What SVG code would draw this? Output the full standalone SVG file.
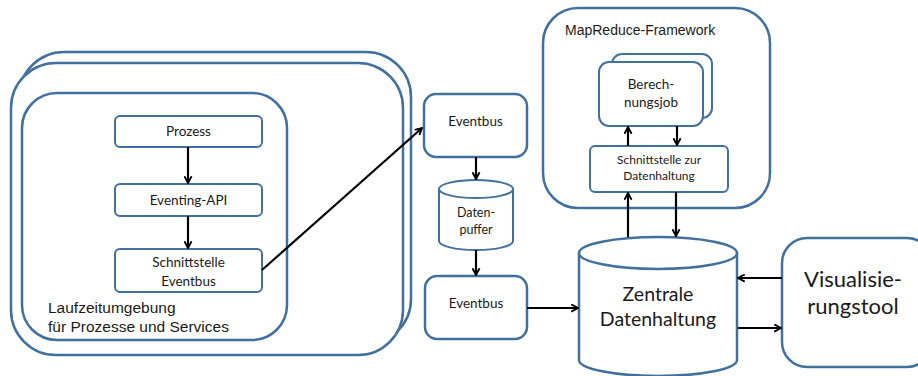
<svg xmlns="http://www.w3.org/2000/svg" width="918" height="376" viewBox="0 0 918 376">
<style>
.b{fill:#fff;stroke:#41709f;stroke-width:2.5}
.s{fill:#fff;stroke:#41709f;stroke-width:2}
.c{fill:none;stroke:#000;stroke-width:2.2}
.t{font-family:Lato,"Open Sans",sans-serif;fill:#1a1a1a;text-anchor:middle}
.a{font-family:"Liberation Sans",Arial,sans-serif;fill:#1a1a1a}
</style>
<defs>
<marker id="ar" viewBox="0 0 10 10" refX="9" refY="5" markerWidth="9" markerHeight="9" orient="auto" markerUnits="userSpaceOnUse">
<path d="M1.5,1 L9,5 L1.5,9" fill="none" stroke="#000" stroke-width="2"/>
</marker>
</defs>
<rect width="918" height="376" fill="#fff"/>
<g id="runtime-stack">
<rect class="b" x="19" y="52" width="392" height="292" rx="45"/>
<rect class="b" x="11" y="63" width="392" height="292" rx="45"/>
</g>
<g id="laufzeitumgebung">
<rect class="b" x="22" y="93" width="265" height="247" rx="35"/>
<text class="a" font-size="15.5" x="48" y="313">Laufzeitumgebung</text>
<text class="a" font-size="15.5" x="48" y="332">für Prozesse und Services</text>
</g>
<g id="prozess">
<rect class="s" x="115" y="116" width="147" height="31" rx="5"/>
<text class="t" font-size="13.5" x="188.5" y="136">Prozess</text>
</g>
<g id="eventing-api">
<rect class="s" x="115" y="184" width="147" height="32" rx="5"/>
<text class="t" font-size="13.5" x="188.5" y="205">Eventing-API</text>
</g>
<g id="schnittstelle-eventbus">
<rect class="s" x="115" y="249" width="147" height="43" rx="5"/>
<text class="t" font-size="13.5" x="188.5" y="267">Schnittstelle</text>
<text class="t" font-size="13.5" x="188.5" y="286">Eventbus</text>
</g>
<g id="eventbus1">
<rect class="b" x="424" y="94" width="103" height="63" rx="12"/>
<text class="t" font-size="13.5" x="475.5" y="126">Eventbus</text>
</g>
<g id="datenpuffer">
<path class="s" d="M439,189 L439,241 A37,9 0 0 0 513,241 L513,189"/>
<ellipse class="s" cx="476" cy="189" rx="37" ry="9"/>
<text class="t" font-size="12.5" x="476" y="217">Daten-</text>
<text class="t" font-size="12.5" x="476" y="234">puffer</text>
</g>
<g id="eventbus2">
<rect class="b" x="425" y="276" width="102" height="63" rx="12"/>
<text class="t" font-size="13.5" x="476" y="308">Eventbus</text>
</g>
<g id="mapreduce">
<rect class="b" x="543" y="8" width="227" height="200" rx="35"/>
<text class="a" font-size="14" x="565" y="35">MapReduce-Framework</text>
</g>
<g id="berechnungsjob">
<rect class="s" x="612" y="54" width="100" height="64" rx="10"/>
<rect class="s" x="599" y="62" width="104" height="64" rx="10"/>
<text class="t" font-size="13.5" x="651" y="89">Berech-</text>
<text class="t" font-size="13.5" x="651" y="107">nungsjob</text>
</g>
<g id="schnittstelle-datenhaltung">
<rect class="s" x="590" y="146" width="138" height="46" rx="5"/>
<text class="t" font-size="12" x="659" y="164">Schnittstelle zur</text>
<text class="t" font-size="12" x="659" y="180">Datenhaltung</text>
</g>
<g id="zentrale-datenhaltung">
<path class="b" d="M579,253 L579,360 A79,16 0 0 0 737,360 L737,253"/>
<ellipse class="b" cx="658" cy="253" rx="79" ry="16"/>
<text class="t" font-size="19.5" x="658" y="301">Zentrale</text>
<text class="t" font-size="19.5" x="658" y="326">Datenhaltung</text>
</g>
<g id="visualisierungstool">
<rect class="b" x="782" y="238" width="150" height="129" rx="25"/>
<text class="t" font-size="22" x="853" y="287">Visualisie-</text>
<text class="t" font-size="22" x="853" y="314">rungstool</text>
</g>
<g id="connectors">
<line class="c" x1="188" y1="147" x2="188" y2="183" marker-end="url(#ar)"/>
<line class="c" x1="188" y1="216" x2="188" y2="248" marker-end="url(#ar)"/>
<line class="c" x1="262" y1="270" x2="422" y2="128" marker-end="url(#ar)"/>
<line class="c" x1="476" y1="157" x2="476" y2="179" marker-end="url(#ar)"/>
<line class="c" x1="476" y1="250" x2="476" y2="275" marker-end="url(#ar)"/>
<line class="c" x1="527" y1="308" x2="578" y2="308" marker-end="url(#ar)"/>
<line class="c" x1="628" y1="146" x2="628" y2="127" marker-end="url(#ar)"/>
<line class="c" x1="677" y1="126" x2="677" y2="145" marker-end="url(#ar)"/>
<line class="c" x1="628" y1="237" x2="628" y2="193" marker-end="url(#ar)"/>
<line class="c" x1="676" y1="192" x2="676" y2="236" marker-end="url(#ar)"/>
<line class="c" x1="782" y1="278" x2="738" y2="278" marker-end="url(#ar)"/>
<line class="c" x1="738" y1="328" x2="781" y2="328" marker-end="url(#ar)"/>
</g>
</svg>
